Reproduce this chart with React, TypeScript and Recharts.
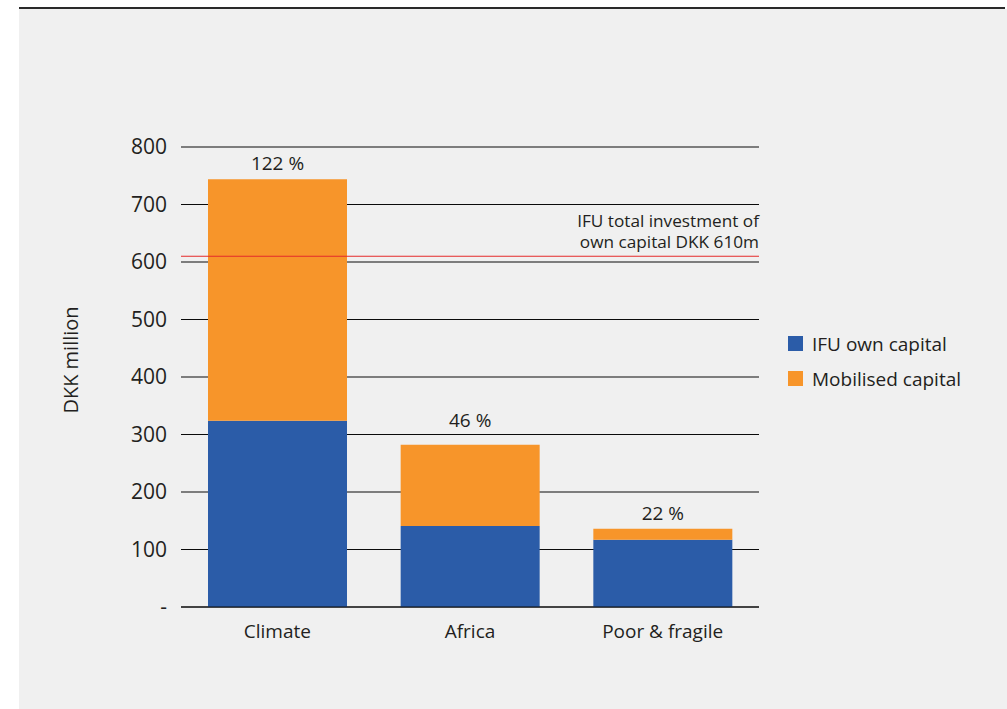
import { BarChart, Bar, XAxis, YAxis, CartesianGrid, ReferenceLine, LabelList, Label } from 'recharts';

const categories = ['Climate', 'Africa', 'Poor & fragile'];
const ownCapital = [324, 141, 117];
const mobilisedCapital = [420, 141, 19];
const shareLabels = ['122 %', '46 %', '22 %'];
const yTicks = [0, 100, 200, 300, 400, 500, 600, 700, 800];
const totalOwnCapital = 610;
const refLabelLines = ['IFU total investment of', 'own capital DKK 610m'];

const BLUE = '#2b5ca8';
const ORANGE = '#f7952a';
const TEXT = '#231f20';
const FONT = '"Open Sans", sans-serif';

// chart geometry
const W = 1007;
const H = 709;
const M = { top: 147, right: 248, bottom: 62, left: 0 };
const PLOT_H = H - M.top - M.bottom - 40;
const Y_MAX = 800;

const data = categories.map((name, i) => ({
  name,
  own: ownCapital[i],
  mobilised: mobilisedCapital[i],
  share: shareLabels[i],
}));

// gridline pixel rows, so a share label never sits on top of one
const gridRows = yTicks.map((t) => M.top + PLOT_H * (1 - t / Y_MAX));

const ShareLabel = (props: any) => {
  const { x, y, width, index } = props;
  let base = y - 9;
  const hit = gridRows.find((g) => g > base - 15 && g < base + 5);
  if (hit !== undefined) base = hit - 8;
  return (
    <text x={x + width / 2} y={base} textAnchor="middle" fill={TEXT} fontSize={19} fontFamily={FONT}>
      {shareLabels[index]}
    </text>
  );
};

const RefLabel = (props: any) => {
  const vb = props.viewBox;
  const right = vb.x + vb.width;
  return (
    <g>
      <text x={right} y={vb.y - 29} textAnchor="end" fill={TEXT} fontSize={17.2} fontFamily={FONT}>
        {refLabelLines[0]}
      </text>
      <text x={right} y={vb.y - 8} textAnchor="end" fill={TEXT} fontSize={17.2} fontFamily={FONT}>
        {refLabelLines[1]}
      </text>
    </g>
  );
};

const AxisTitle = () => (
  <text
    x={78}
    y={360}
    transform="rotate(-90, 78, 360)"
    textAnchor="middle"
    fill={TEXT}
    fontSize={20}
    fontFamily={FONT}
  >
    DKK million
  </text>
);

const legendItems = [
  { label: 'IFU own capital', color: BLUE },
  { label: 'Mobilised capital', color: ORANGE },
];

export default function App() {
  return (
    <div style={{ position: 'absolute', left: 0, top: 0, width: W, height: H, fontFamily: FONT }}>
      <div style={{ position: 'absolute', left: 19, top: 9, width: 988, height: 700, background: '#f0f0f0' }} />
      <div style={{ position: 'absolute', left: 19, top: 7, width: 986, height: 2, background: '#2a2a2a' }} />
      <div style={{ position: 'absolute', left: 0, top: 0 }}>
        <BarChart width={W} height={H} data={data} margin={M}>
          <CartesianGrid vertical={false} stroke="#0a0a0a" strokeWidth={1} />
          <XAxis
            dataKey="name"
            height={40}
            tickLine={false}
            tickSize={0}
            tickMargin={18}
            axisLine={{ stroke: '#0a0a0a' }}
            tick={{ fill: TEXT, fontSize: 19, fontFamily: FONT }}
          />
          <YAxis
            width={181}
            domain={[0, Y_MAX]}
            ticks={yTicks}
            interval={0}
            axisLine={false}
            tickLine={false}
            tickSize={0}
            tickMargin={14}
            tickFormatter={(v: number) => (v === 0 ? '-' : String(v))}
            tick={{ fill: TEXT, fontSize: 21, fontFamily: FONT }}
          >
            <Label content={<AxisTitle />} />
          </YAxis>
          <Bar dataKey="own" stackId="a" fill={BLUE} barSize={139} isAnimationActive={false} />
          <Bar dataKey="mobilised" stackId="a" fill={ORANGE} barSize={139} isAnimationActive={false}>
            <LabelList dataKey="share" content={<ShareLabel />} />
          </Bar>
          <ReferenceLine y={totalOwnCapital} stroke="#e52b2b" strokeWidth={1} ifOverflow="extendDomain">
            <Label content={<RefLabel />} />
          </ReferenceLine>
        </BarChart>
      </div>
      <div style={{ position: 'absolute', left: 788, top: 326 }}>
        {legendItems.map((item) => (
          <div key={item.label} style={{ display: 'flex', alignItems: 'center', height: 35 }}>
            <div style={{ width: 15, height: 15, background: item.color, marginRight: 9 }} />
            <span style={{ fontSize: 19, color: TEXT, lineHeight: '20px' }}>{item.label}</span>
          </div>
        ))}
      </div>
    </div>
  );
}
